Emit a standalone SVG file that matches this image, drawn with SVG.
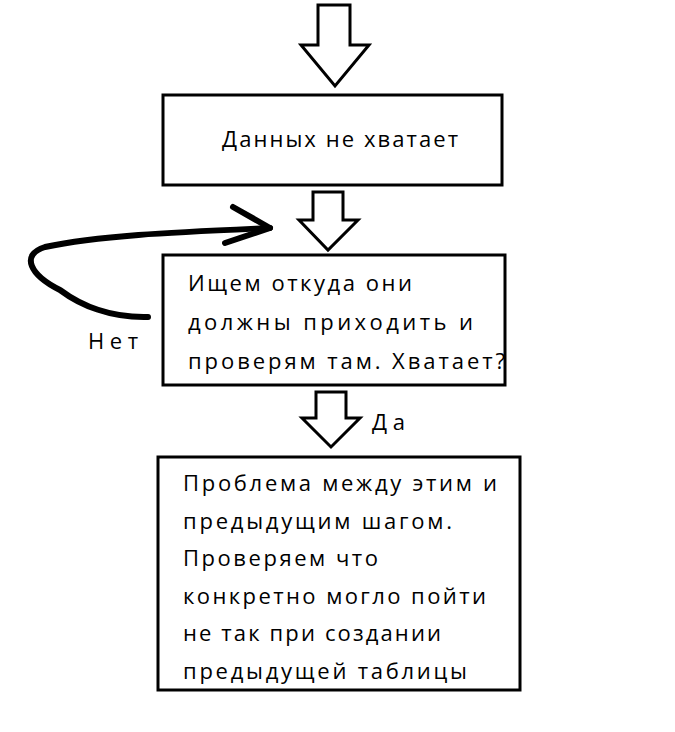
<svg xmlns="http://www.w3.org/2000/svg" width="675" height="732" viewBox="0 0 675 732">
<style>
.box{fill:#fff;stroke:#000;stroke-width:3}
.ba{fill:#fff;stroke:#000;stroke-width:3;stroke-linejoin:miter}
text{font-family:"Open Sans","DejaVu Sans",sans-serif;font-size:22px;fill:#000}
</style>
<rect width="675" height="732" fill="#fff"/>
<g id="connectors">
<polygon class="ba" points="318,5 350,5 350,45 369,45 335,86 301,45 318,45"/>
<polygon class="ba" points="313,192 343,192 343,220 358,220 328,250 299,220 313,220"/>
<polygon class="ba" points="316,392 346,392 346,418 360,418 331,447 302,418 316,418"/>
<path d="M148,317 C110,318 80,305 60,290 C30,275 20,255 45,247 C100,235 180,232 270,228" fill="none" stroke="#000" stroke-width="6" stroke-linecap="round" stroke-linejoin="round"/>
<path d="M233,207 L270,228 L225,243" fill="none" stroke="#000" stroke-width="6" stroke-linecap="round" stroke-linejoin="round"/>
<text x="88" y="349" textLength="50">Нет</text>
<text x="372" y="430" textLength="33">Да</text>
</g>
<g id="n1"><rect class="box" x="163" y="95" width="339" height="90"/><text x="222" y="147" textLength="236">Данных не хватает</text></g>
<g id="n2"><rect class="box" x="163" y="255" width="342" height="130"/>
<text x="188" y="291" textLength="224">Ищем откуда они</text><text x="188" y="330" textLength="285">должны приходить и</text><text x="188" y="369" textLength="317">проверям там. Хватает?</text></g>
<g id="n3"><rect class="box" x="158" y="457" width="362" height="233"/>
<text x="183" y="491" textLength="314">Проблема между этим и</text><text x="183" y="529" textLength="269">предыдущим шагом.</text><text x="183" y="566" textLength="195">Проверяем что</text><text x="183" y="604" textLength="303">конкретно могло пойти</text><text x="183" y="641" textLength="258">не так при создании</text><text x="183" y="679" textLength="284">предыдущей таблицы</text></g>
</svg>
